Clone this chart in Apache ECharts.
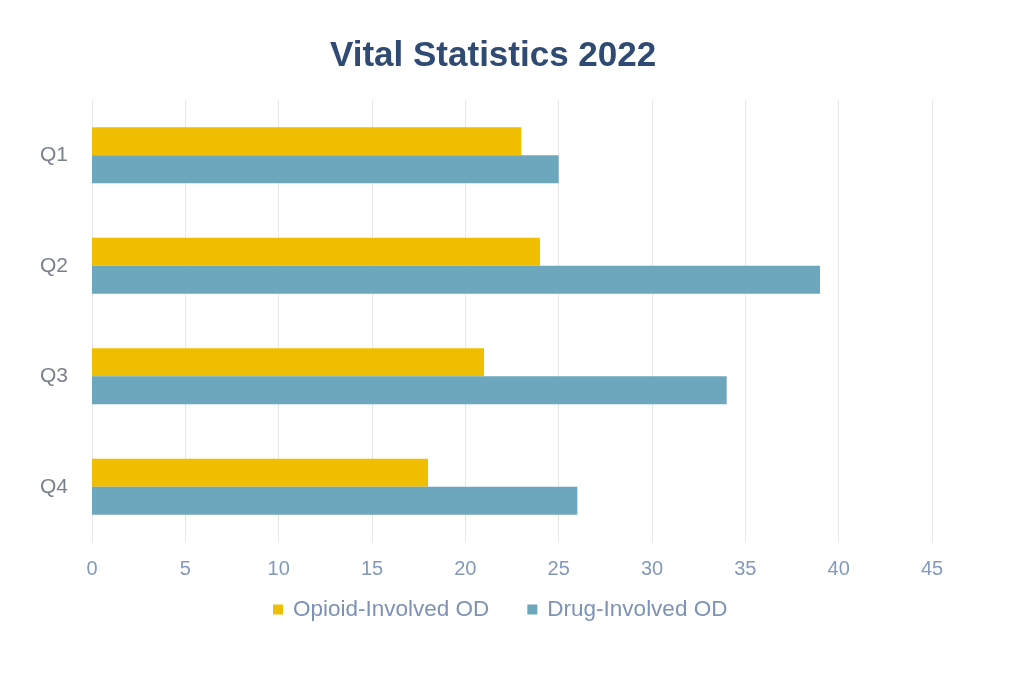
<!DOCTYPE html>
<html><head><meta charset="utf-8">
<script src="https://cdn.jsdelivr.net/npm/echarts@6/dist/echarts.min.js"></script>
<style>html,body{margin:0;padding:0;background:#fff}#c{width:1013px;height:678px}</style>
</head><body><div id="c"></div>
<script>
const categories = ['Q1','Q2','Q3','Q4'];
const opioidValues = [23, 24, 21, 18];
const drugValues = [25, 39, 34, 26];
const seriesNames = ['Opioid-Involved OD','Drug-Involved OD'];
const chart = echarts.init(document.getElementById('c'));
chart.setOption({
  backgroundColor:'#ffffff',
  animation:false,
  title:{text:'Vital Statistics 2022',left:330,top:39,padding:0,
    textStyle:{fontFamily:'Liberation Sans, Arial',fontWeight:'bold',fontSize:35,color:'#2F4A73'}},
  legend:{data:seriesNames,bottom:52,left:268,itemWidth:10,itemHeight:10,itemGap:38,
    icon:'rect',textStyle:{fontFamily:'Liberation Sans, Arial',fontSize:22.5,color:'#7D92B4',padding:[0,0,0,5]}},
  grid:{left:92,right:81,top:100,bottom:136,containLabel:false},
  xAxis:{type:'value',min:0,max:45,interval:5,
    axisLine:{show:false},axisTick:{show:false},
    axisLabel:{fontFamily:'Liberation Sans, Arial',fontSize:20,color:'#8299BC',margin:17},
    splitLine:{show:true,lineStyle:{color:'#E6E6E6',width:1}}},
  yAxis:{type:'category',data:categories,inverse:true,
    axisLine:{show:false},axisTick:{show:false},
    axisLabel:{fontFamily:'Liberation Sans, Arial',fontSize:21,color:'#7B818C',margin:24}},
  series:[
    {name:seriesNames[0],type:'bar',data:opioidValues,barWidth:28,barGap:'0%',
     itemStyle:{color:'#F0BE00'}},
    {name:seriesNames[1],type:'bar',data:drugValues,barWidth:28,barGap:'0%',
     itemStyle:{color:'#6CA7BE'}}
  ]
});
</script></body></html>
